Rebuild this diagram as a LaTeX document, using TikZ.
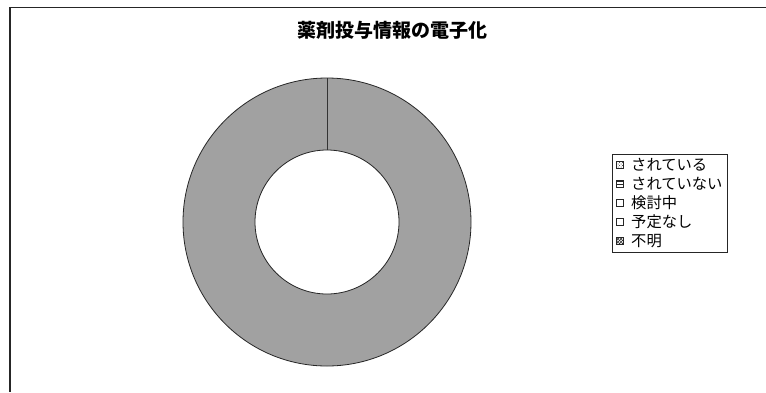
\documentclass[tikz,border=0pt]{standalone}
\usepackage{fontspec}
\newfontfamily\cjk{Noto Sans CJK JP}
\usetikzlibrary{patterns}
\tikzset{
  frameline/.style={line width=1.2pt, black!85},
  ring/.style={fill=black!37, draw=black!85, line width=0.8pt},
  legendbox/.style={draw=black!85, line width=0.9pt, fill=white},
  marker/.style={draw=black!85, line width=0.6pt, minimum size=7pt, inner sep=0pt},
  legtext/.style={anchor=west, inner sep=0pt, font=\cjk\fontsize{15.3}{15.3}\selectfont},
  titletext/.style={font=\cjk\bfseries\fontsize{19}{19}\selectfont}
}
\begin{document}
\begin{tikzpicture}[x=1pt,y=-1pt]
\useasboundingbox (0,0) rectangle (766,392);
\fill[white] (0,0) rectangle (766,392);
% frame (only top and left edges visible)
\coordinate (ftr) at (766,7.5);
\coordinate (ftl) at (10,7.5);
\coordinate (fbl) at (10,392);
\draw[frameline] (ftr) -- (ftl) -- (fbl);
% title
\node[titletext] (title) at (392,30) {薬剤投与情報の電子化};
% donut
\coordinate (c) at (327,222);
\fill[ring, even odd rule] (c) circle[radius=144] (c) circle[radius=72];
\coordinate (o1) at (327,78);
\coordinate (i1) at (327,150);
\draw[black!80, line width=0.8pt] (o1) -- (i1);
% legend
\node[legendbox, minimum width=115pt, minimum height=98pt, anchor=north west] (leg) at (612,154) {};
\node[marker, pattern=crosshatch dots, pattern color=black!80] (m1) at (620,164.5) {};
\node[marker, pattern=horizontal lines, pattern color=black!85] (m2) at (620,183.5) {};
\node[marker, fill=white] (m3) at (620,202.5) {};
\node[marker, fill=white] (m4) at (620,222) {};
\node[marker, pattern=crosshatch, pattern color=black!85] (m5) at (620,241) {};
\node[legtext] (t1) at (631,164.5) {されている};
\node[legtext] (t2) at (631,183.5) {されていない};
\node[legtext] (t3) at (631,202.5) {検討中};
\node[legtext] (t4) at (631,222) {予定なし};
\node[legtext] (t5) at (631,241) {不明};
\end{tikzpicture}
\end{document}
